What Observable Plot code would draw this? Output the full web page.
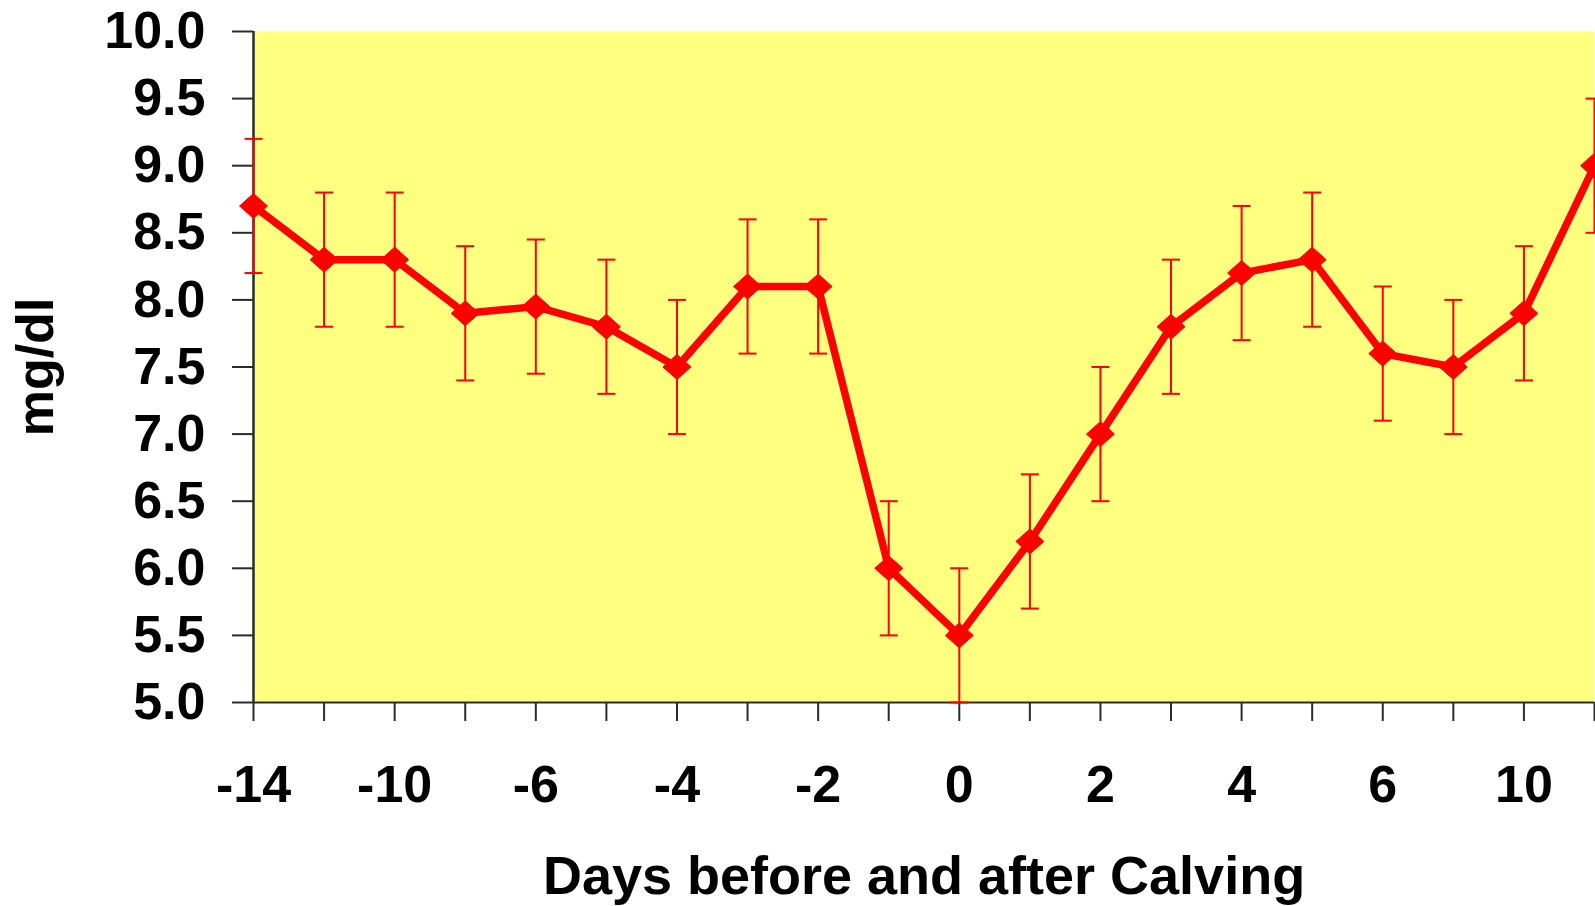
<!DOCTYPE html>
<html>
<head>
<meta charset="utf-8">
<script src="https://cdn.jsdelivr.net/npm/d3@7"></script>
<script src="https://cdn.jsdelivr.net/npm/@observablehq/plot@0.6"></script>
<style>
  html, body { margin: 0; padding: 0; background: #ffffff; overflow: hidden; }
  #chart svg { display: block; }
</style>
</head>
<body>
<div id="chart"></div>
<script>
// Days relative to calving (one sampling point per entry)
const days = [-14, -12, -10, -8, -6, -5, -4, -3, -2, -1, 0, 1, 2, 3, 4, 5, 6, 8, 10, 12];
// Mean concentration, mg/dl
const means = [8.7, 8.3, 8.3, 7.9, 7.95, 7.8, 7.5, 8.1, 8.1, 6.0, 5.5, 6.2, 7.0, 7.8, 8.2, 8.3, 7.6, 7.5, 7.9, 9.0];
// Half-width of each error bar, mg/dl
const errors = [0.5, 0.5, 0.5, 0.5, 0.5, 0.5, 0.5, 0.5, 0.5, 0.5, 0.5, 0.5, 0.5, 0.5, 0.5, 0.5, 0.5, 0.5, 0.5, 0.5];
// Days that carry a tick label
const labeledDays = [-14, -10, -6, -4, -2, 0, 2, 4, 6, 10];
// Y tick values
const yTicks = [5.0, 5.5, 6.0, 6.5, 7.0, 7.5, 8.0, 8.5, 9.0, 9.5, 10.0];

const xTitle = "Days before and after Calving";
const yTitle = "mg/dl";

const rows = days.map((day, i) => ({
  day,
  mean: means[i],
  lo: means[i] - errors[i],
  hi: means[i] + errors[i]
}));

const red = "#ff0000";
const axisColor = "#2b2b2b";
const font = "'Liberation Sans', Arial, Helvetica, sans-serif";

// short horizontal stroke used as an error-bar cap
const capSymbol = {
  draw(context) {
    context.moveTo(-9, 0);
    context.lineTo(9, 0);
  }
};

// slightly wide diamond marker
const diamondSymbol = {
  draw(context) {
    context.moveTo(0, -12.5);
    context.lineTo(14, 0);
    context.lineTo(0, 12.5);
    context.lineTo(-14, 0);
    context.closePath();
  }
};

const chart = Plot.plot({
  width: 1595,
  height: 906,
  marginLeft: 253,
  marginRight: 1,
  marginTop: 31,
  marginBottom: 204,
  style: {fontFamily: font, fontSize: "52px", fontWeight: "bold", color: "#000", background: "#ffffff"},
  x: {type: "point", domain: days, padding: 0, round: false, inset: 0},
  y: {domain: [5, 10], inset: 0},
  marks: [
    Plot.frame({fill: "#ffff80", stroke: null}),
    Plot.axisY({
      ticks: yTicks,
      tickSize: 21,
      tickPadding: 27,
      tickFormat: d3.format(".1f"),
      stroke: axisColor,
      strokeWidth: 2,
      fontSize: 52,
      fontWeight: "bold",
      fill: "#000",
      label: null
    }),
    Plot.axisX({
      ticks: days,
      tickSize: 19,
      tickPadding: 44,
      tickFormat: d => labeledDays.includes(d) ? String(d) : "",
      stroke: axisColor,
      strokeWidth: 2,
      fontSize: 52,
      fontWeight: "bold",
      fill: "#000",
      label: null
    }),
    Plot.ruleY([5], {stroke: axisColor, strokeWidth: 2}),
    Plot.ruleX([days[0]], {stroke: axisColor, strokeWidth: 2.5}),
    // error bars with caps
    Plot.ruleX(rows, {x: "day", y1: "lo", y2: "hi", stroke: red, strokeWidth: 2}),
    Plot.dot(rows, {x: "day", y: "hi", symbol: capSymbol, fill: "none", stroke: red, strokeWidth: 2}),
    Plot.dot(rows, {x: "day", y: "lo", symbol: capSymbol, fill: "none", stroke: red, strokeWidth: 2}),
    // mean line and diamond markers
    Plot.line(rows, {x: "day", y: "mean", stroke: red, strokeWidth: 7.5, strokeLinejoin: "round"}),
    Plot.dot(rows, {x: "day", y: "mean", symbol: diamondSymbol, fill: red, stroke: red, strokeWidth: 1}),
    // axis titles
    Plot.text([xTitle], {frameAnchor: "bottom", textAnchor: "middle", dy: 174, lineAnchor: "middle", fontSize: 54, fontWeight: "bold", fill: "#000"}),
    Plot.text([yTitle], {frameAnchor: "left", textAnchor: "middle", dx: -217, rotate: -90, lineAnchor: "middle", fontSize: 52, fontWeight: "bold", fill: "#000"})
  ]
});

document.getElementById("chart").appendChild(chart);
</script>
</body>
</html>
